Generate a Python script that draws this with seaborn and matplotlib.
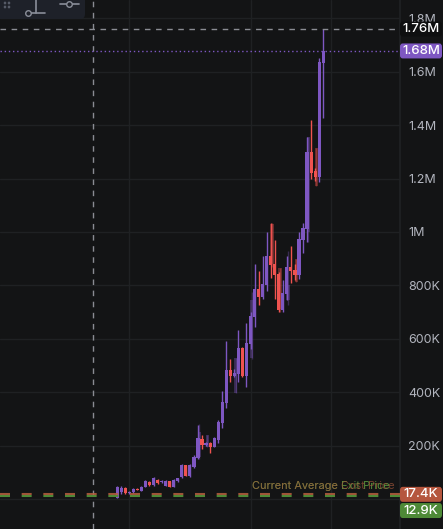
import matplotlib.pyplot as plt
import numpy as np
import pandas as pd
import seaborn as sns
from matplotlib.patches import FancyBboxPatch, Circle
from matplotlib.lines import Line2D

# Candle data (values in thousands)
opens = [5, 26, 41, 22, 26, 39, 31, 46, 65, 52, 71, 62, 50, 67, 46, 67, 81, 126, 87, 121,
         152, 225, 201, 211, 196, 221, 286, 361, 483, 461, 468, 565, 461, 580, 682, 786, 756, 801, 910, 880,
         843, 708, 768, 869, 857, 839, 970, 1011, 1300, 1228, 1206, 1633]
highs = [50, 48, 45, 30, 40, 42, 49, 70, 68, 82, 76, 70, 72, 69, 75, 80, 131, 129, 130, 165,
         277, 240, 215, 214, 232, 297, 404, 593, 525, 485, 633, 570, 659, 700, 880, 854, 910, 1000, 1034, 969,
         850, 820, 910, 947, 880, 1000, 1034, 1356, 1419, 1240, 1650, 1760]
lows = [2, 19, 20, 18, 24, 32, 29, 44, 49, 50, 57, 60, 48, 44, 44, 65, 78, 85, 84, 116,
        150, 187, 198, 172, 193, 210, 266, 342, 438, 455, 438, 455, 419, 560, 644, 727, 749, 779, 828, 749,
        700, 700, 745, 809, 820, 824, 920, 962, 1199, 1190, 1187, 1427]
closes = [45, 41, 22, 27, 37, 34, 46, 67, 52, 78, 59, 67, 67, 46, 71, 78, 126, 87, 126, 158,
          227, 202, 211, 196, 227, 290, 364, 483, 461, 473, 565, 461, 584, 685, 786, 756, 805, 910, 876, 839,
          708, 771, 869, 854, 839, 974, 1015, 1300, 1221, 1206, 1638, 1678]

# Faint overlay candles
dim_idx = [20, 22, 29, 33, 38, 40, 42, 44, 47, 49]
dim_open = [157, 195, 397, 528, 1030, 865, 745, 899, 1000, 1314]
dim_high = [281, 240, 528, 775, 1035, 865, 929, 899, 1356, 1314]
dim_low = [150, 195, 397, 524, 870, 700, 727, 813, 962, 1172]
dim_close = [250, 240, 528, 745, 880, 710, 800, 813, 1356, 1172]

ytick_vals = [0, 200, 400, 600, 800, 1000, 1200, 1400, 1600, 1800]
ytick_labels = ["", "200K", "400K", "600K", "800K", "1M", "1.2M", "1.4M", "1.6M", "1.8M"]
xgrid_pos = [3, 33, 53]

crosshair_x = -6
crosshair_y = 1760
last_price = 1678
cost_price = 17.4
exit_price = 12.9

bg = "#131415"
purple = "#7e57c2"
red = "#ef5350"

sns.set_theme(style="dark", rc={
    "figure.facecolor": bg,
    "axes.facecolor": bg,
    "axes.edgecolor": bg,
})
plt.rcParams["font.family"] = ["Inter", "DejaVu Sans"]

W, H = 443, 529
fig = plt.figure(figsize=(W / 100, H / 100), dpi=100)
ax = fig.add_axes([0, 0, 400 / W, 1])

df = pd.DataFrame({"o": opens, "h": highs, "l": lows, "c": closes})
df["i"] = np.arange(len(df))
df["up"] = df["c"] >= df["o"]
df["col"] = np.where(df["up"], purple, red)
df["bot"] = df[["o", "c"]].min(axis=1)
df["ht"] = (df["c"] - df["o"]).abs().clip(lower=4)

dim = pd.DataFrame({"i": dim_idx, "o": dim_open, "h": dim_high, "l": dim_low, "c": dim_close})
dim["col"] = np.where(dim["c"] >= dim["o"], purple, red)
dim["bot"] = dim[["o", "c"]].min(axis=1)
dim["ht"] = (dim["c"] - dim["o"]).abs().clip(lower=4)

# grid
for v in ytick_vals:
    ax.axhline(v, color="#1f2123", lw=1, zorder=0)
for xg in xgrid_pos:
    ax.axvline(xg, color="#1f2123", lw=1, zorder=0)

# faint candles
ax.vlines(dim["i"] + 0.3, dim["l"], dim["h"], colors=dim["col"], lw=1, alpha=0.35, zorder=1)
ax.bar(dim["i"] + 0.3, dim["ht"], bottom=dim["bot"], width=0.8, color=dim["col"], alpha=0.35,
       linewidth=0, zorder=1)

# candles
ax.vlines(df["i"], df["l"], df["h"], colors=df["col"], lw=1, zorder=2)
ax.bar(df["i"], df["ht"], bottom=df["bot"], width=0.78, color=df["col"], linewidth=0, zorder=3)

# crosshair
ax.axvline(crosshair_x, color="#8a8c93", lw=1, ls=(0, (4, 4)), zorder=4)
ax.axhline(crosshair_y, color="#8a8c93", lw=1, ls=(0, (4, 4)), zorder=4)
# last price line
ax.axhline(last_price, color=purple, lw=1, ls=(0, (1, 2)), zorder=4)

# average price lines
ax.axhline(exit_price, color="#4e8a37", lw=1.5, ls=(0, (4.8, 5.6)), zorder=4)
ax.axhline(cost_price, color="#b8603f", lw=1.5, ls=(0, (4.8, 5.6)), alpha=0.85, zorder=5)
ax.text(67.4, 47, "Current Average Exit Price", color="#55903a", fontsize=7.9, ha="right",
        va="center", zorder=6)
ax.text(68.6, 47, "Current Average Cost Price", color="#a0553a", fontsize=7.9, ha="right",
        va="center", alpha=0.7, zorder=6)

ax.set_xlim(-29.0, 70.0)
ax.set_ylim(-112.4, 1868.8)
ax.set_yticks(ytick_vals)
ax.set_yticklabels(ytick_labels)
ax.yaxis.tick_right()
ax.tick_params(axis="y", length=0, pad=6, labelsize=9, labelcolor="#b2b5be")
ax.set_xticks([])
for s in ["top", "left", "bottom"]:
    ax.spines[s].set_visible(False)
ax.spines["right"].set_color("#1f2123")

fig.canvas.draw()


def price_box(value, label, fc, tc="white", shift=0):
    ypix = ax.transData.transform((0, value))[1] - shift
    box = FancyBboxPatch((400 / W, (ypix - 7.5) / H), 42 / W, 15 / H,
                         boxstyle="round,pad=0,rounding_size=0.006", fc=fc, ec="none",
                         transform=fig.transFigure, zorder=5)
    fig.patches.append(box)
    fig.text(421 / W, ypix / H, label, color=tc, fontsize=9.5, ha="center", va="center",
             fontweight="medium", zorder=6)


price_box(crosshair_y, "1.76M", "#0e0f10")
price_box(last_price, "1.68M", purple)
price_box(cost_price, "17.4K", "#b5563e")
price_box(exit_price, "12.9K", "#4e8a37", shift=15)

# toolbar widget in top-left corner
fig.patches.append(FancyBboxPatch((-10 / W, 1 - 19 / H), 95 / W, 25 / H,
                                  boxstyle="round,pad=0,rounding_size=0.01", fc="#1e2129",
                                  ec="none", transform=fig.transFigure, zorder=5))
ic = "#8a8e99"
for dx in (5, 9):
    for dy in (3, 7):
        fig.patches.append(Circle((dx / W, 1 - dy / H), 0.6 / W, color="#555a66",
                                  transform=fig.transFigure, zorder=6))
fig.lines.append(Line2D([36 / W, 36 / W], [1, 1 - 12.5 / H], color=ic, lw=1.2,
                        transform=fig.transFigure, zorder=6))
fig.lines.append(Line2D([28 / W, 45 / W], [1 - 12.5 / H, 1 - 12.5 / H], color=ic, lw=1.2,
                        transform=fig.transFigure, zorder=6))
fig.lines.append(Line2D([60 / W, 79 / W], [1 - 4 / H, 1 - 4 / H], color=ic, lw=1.2,
                        transform=fig.transFigure, zorder=6))
fig.lines.append(Line2D([28 / W], [1 - 12.5 / H], marker="o", ms=4, mfc="#1e2129", mec=ic,
                        transform=fig.transFigure, zorder=7))
fig.lines.append(Line2D([69 / W], [1 - 4 / H], marker="o", ms=4, mfc="#1e2129", mec=ic,
                        transform=fig.transFigure, zorder=7))

fig.savefig("out.png", dpi=100, facecolor=bg)
